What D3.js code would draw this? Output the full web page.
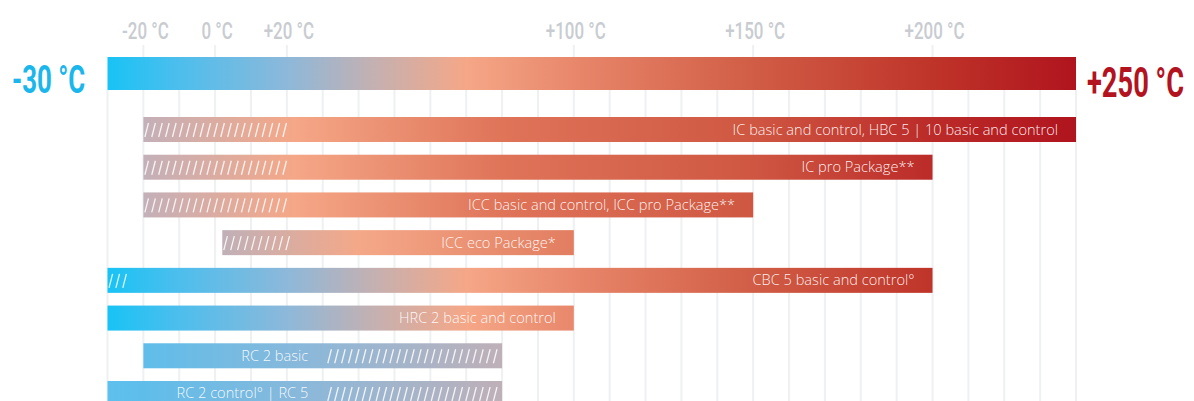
<!DOCTYPE html>
<html lang="en">
<head>
    <meta charset="UTF-8">
    <title>Temperature ranges</title>
    <script src="https://d3js.org/d3.v7.min.js"></script>
    <style>
        body { margin: 0; background: #fff; }
        .label { font-family: "Open Sans", "Noto Sans", sans-serif; font-weight: 300; font-size: 14.6px; fill: #fff; fill-opacity: 0.92; }
        .tick-label { font-family: Roboto, sans-serif; font-weight: 500; font-size: 23.5px; fill: #c8ccd1; }
        .range-label { font-family: Roboto, sans-serif; font-weight: 700; }
    </style>
</head>
<body>
    <div id="chart"></div>
    <script>
        var width = 1194, height = 401;

        // axis
        var rangeMin = -30, rangeMax = 240;
        var rangeLabels = ["-30 °C", "+250 °C"];
        var tickTemps = [-20, 0, 20, 100, 150, 200];
        var tickLabels = ["-20 °C", "0 °C", "+20 °C", "+100 °C", "+150 °C", "+200 °C"];
        var gridTemps = [-30, -20, -10, 0, 10, 20, 30, 40, 50, 60, 70, 80, 90, 100, 110, 120, 130,
                         140, 150, 160, 170, 180, 190, 200, 210, 220, 230, 240];

        // products
        var products = [
            "IC basic and control, HBC 5 | 10 basic and control",
            "IC pro Package**",
            "ICC basic and control, ICC pro Package**",
            "ICC eco Package*",
            "CBC 5 basic and control°",
            "HRC 2 basic and control",
            "RC 2 basic",
            "RC 2 control° | RC 5"
        ];
        var tempFrom  = [-20, -20, -20,   2, -30, -30, -20, -30];
        var tempTo    = [240, 200, 150, 100, 200, 100,  80,  80];
        var hatchFrom = [-20, -20, -20,   2, -30, null, 31,  31];
        var hatchTo   = [ 21,  21,  21,  21, -24.5, null, 80,  80];
        var palette   = ["warm", "warm", "warm", "eco", "full", "full", "cool", "cool"];

        // gradient stops, [temperature, colour]
        var gradients = {
            full: [[-30, "#18c3f5"], [-10, "#4dbeed"], [20, "#8db8da"], [45, "#c6b0b0"], [70, "#f5a787"],
                   [100, "#e8876b"], [150, "#d15d46"], [200, "#bf3429"], [240, "#b0141e"]],
            warm: [[-20, "#c3b0b9"], [22, "#f5a787"], [80, "#df7459"], [150, "#cf5742"], [200, "#bb2b29"], [240, "#b0141e"]],
            eco:  [[2, "#c0b0b8"], [40, "#f4a888"], [100, "#e27d60"]],
            cool: [[-30, "#5ec0ee"], [-20, "#5fbdea"], [25, "#8ab8da"], [80, "#bfb0b8"]]
        };

        var xScale = d3.scaleLinear().domain([rangeMin, rangeMax]).range([107.5, 1076]);
        var yScale = d3.scaleBand().domain(d3.range(products.length)).range([117, 406]).paddingInner(0.337).paddingOuter(0);

        var svg = d3.select("#chart").append("svg")
            .attr("width", width)
            .attr("height", height);

        var defs = svg.append("defs");
        Object.keys(gradients).forEach(function(key){
            var stops = gradients[key];
            var t0 = stops[0][0], t1 = stops[stops.length - 1][0];
            var g = defs.append("linearGradient")
                .attr("id", "grad-" + key)
                .attr("gradientUnits", "userSpaceOnUse")
                .attr("x1", xScale(t0))
                .attr("x2", xScale(t1))
                .attr("y1", 0).attr("y2", 0);
            g.selectAll("stop").data(stops).enter().append("stop")
                .attr("offset", function(d){ return (d[0] - t0) / (t1 - t0); })
                .attr("stop-color", function(d){ return d[1]; });
        });

        // grid
        svg.append("g").selectAll("line").data(gridTemps).enter().append("line")
            .attr("x1", function(d){ return xScale(d); })
            .attr("x2", function(d){ return xScale(d); })
            .attr("y1", function(d){ return tickTemps.indexOf(d) >= 0 ? 45 : 90; })
            .attr("y2", height)
            .attr("stroke", "#eef0f2")
            .attr("stroke-width", 2);

        // tick labels
        svg.append("g").selectAll("g").data(tickTemps).enter().append("g")
            .attr("transform", function(d){ return "translate(" + (xScale(d) + 2) + ",39) scale(0.72,1)"; })
            .append("text")
            .attr("class", "tick-label")
            .attr("text-anchor", "middle")
            .text(function(d, i){ return tickLabels[i]; });

        // full range bar
        svg.append("rect")
            .attr("x", xScale(rangeMin))
            .attr("y", 57)
            .attr("width", xScale(rangeMax) - xScale(rangeMin))
            .attr("height", 33)
            .attr("fill", "url(#grad-full)");

        svg.append("g").attr("transform", "translate(12,93) scale(0.68,1)")
            .append("text").attr("class", "range-label")
            .style("font-size", "38px").attr("fill", "#1ab6ec")
            .text(rangeLabels[0]);
        svg.append("g").attr("transform", "translate(1087,97) scale(0.65,1)")
            .append("text").attr("class", "range-label")
            .style("font-size", "42px").attr("fill", "#b3131f")
            .text(rangeLabels[1]);

        // product bars
        var bw = yScale.bandwidth();
        var rows = svg.append("g").selectAll("g").data(products).enter().append("g")
            .attr("transform", function(d, i){ return "translate(0," + yScale(i) + ")"; });

        rows.append("rect")
            .attr("x", function(d, i){ return xScale(tempFrom[i]); })
            .attr("y", 0)
            .attr("width", function(d, i){ return xScale(tempTo[i]) - xScale(tempFrom[i]); })
            .attr("height", bw)
            .attr("fill", function(d, i){ return "url(#grad-" + palette[i] + ")"; });

        rows.each(function(d, i){
            if (hatchFrom[i] === null) return;
            var a = xScale(hatchFrom[i]), b = xScale(hatchTo[i]);
            var xs = [];
            for (var x = a + 1.5; x + 3.6 <= b; x += 6.9) xs.push(x);
            d3.select(this).selectAll(".hatch").data(xs).enter().append("line")
                .attr("class", "hatch")
                .attr("x1", function(x){ return x; })
                .attr("y1", bw - 5)
                .attr("x2", function(x){ return x + 3.6; })
                .attr("y2", 6)
                .attr("stroke", "#fff")
                .attr("stroke-opacity", 0.85)
                .attr("stroke-width", 1.3);
        });

        rows.append("text")
            .attr("class", "label")
            .attr("text-anchor", "end")
            .attr("x", function(d, i){
                var end = (hatchFrom[i] !== null && hatchFrom[i] > tempFrom[i]) ? hatchFrom[i] : tempTo[i];
                return xScale(end) - 18;
            })
            .attr("y", bw / 2 + 5)
            .text(function(d){ return d; });
    </script>
</body>
</html>
